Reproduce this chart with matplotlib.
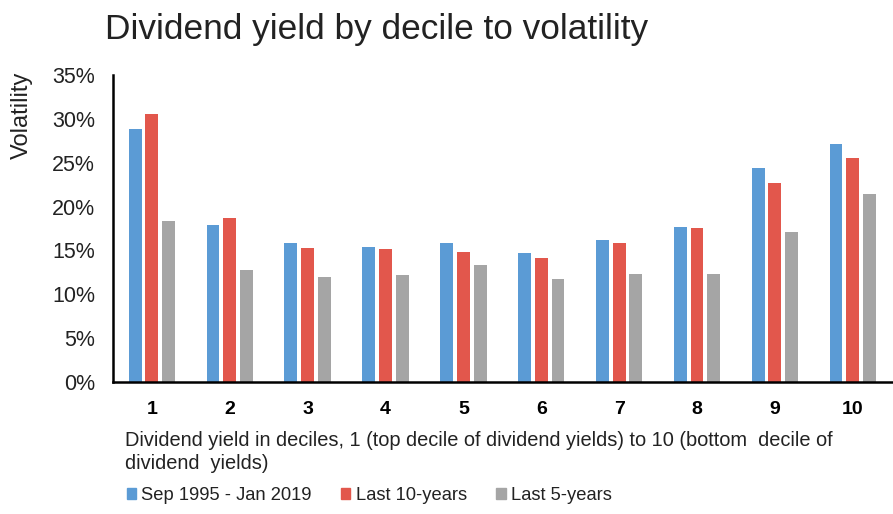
import matplotlib.pyplot as plt
import numpy as np
from matplotlib.ticker import PercentFormatter
from matplotlib.patches import Patch

plt.rcParams['font.family'] = ['Liberation Sans', 'DejaVu Sans']

deciles = ['1', '2', '3', '4', '5', '6', '7', '8', '9', '10']
full_period = [28.8, 17.9, 15.9, 15.4, 15.9, 14.7, 16.2, 17.7, 24.4, 27.1]
last_10y = [30.6, 18.7, 15.3, 15.2, 14.8, 14.1, 15.8, 17.6, 22.7, 25.5]
last_5y = [18.4, 12.8, 12.0, 12.2, 13.3, 11.7, 12.3, 12.3, 17.1, 21.4]

series_names = ['Sep 1995 - Jan 2019', 'Last 10-years', 'Last 5-years']
colors = ['#5B9BD5', '#E2574C', '#A5A5A5']

fig = plt.figure(figsize=(8.93, 5.14), dpi=100)
ax = fig.add_axes([0.1265, 0.257, 0.872, 0.597])

x = np.arange(1, len(deciles) + 1)
w = 0.165
step = 0.215
for i, (vals, c) in enumerate(zip([full_period, last_10y, last_5y], colors)):
    ax.bar(x + (i - 1) * step, vals, width=w, color=c, label=series_names[i])

ax.set_xlim(0.5, 10.5)
ax.set_ylim(0, 35)
ax.set_yticks(np.arange(0, 36, 5))
ax.yaxis.set_major_formatter(PercentFormatter(decimals=0))
ax.set_xticks(x)
ax.set_xticklabels(deciles, fontweight='bold', fontsize=14)
ax.tick_params(axis='y', labelsize=15.5, length=0, pad=13, labelcolor='#222222')
ax.tick_params(axis='x', length=0, pad=14)

for s in ['top', 'right']:
    ax.spines[s].set_visible(False)
for s in ['left', 'bottom']:
    ax.spines[s].set_linewidth(1.8)
    ax.spines[s].set_color('black')

fig.text(0.118, 0.942, 'Dividend yield by decile to volatility', fontsize=25.4,
         ha='left', va='center', color='#222222')
fig.text(0.024, 0.775, 'Volatility', rotation=90, fontsize=17, ha='center', va='center',
         color='#222222')
fig.text(0.14, 0.12, 'Dividend yield in deciles, 1 (top decile of dividend yields) to 10 (bottom  decile of\ndividend  yields)',
         fontsize=14.4, ha='left', va='center', linespacing=1.25, color='#222222')

handles = [Patch(color=c) for c in colors]
fig.legend(handles, series_names, loc='center left', bbox_to_anchor=(0.142, 0.036),
           ncol=3, frameon=False, fontsize=13.2, handlelength=0.5, handleheight=0.5,
           handletextpad=0.3, columnspacing=1.6, labelcolor='#222222',
           borderpad=0, borderaxespad=0)

plt.savefig('out.png', dpi=100)
